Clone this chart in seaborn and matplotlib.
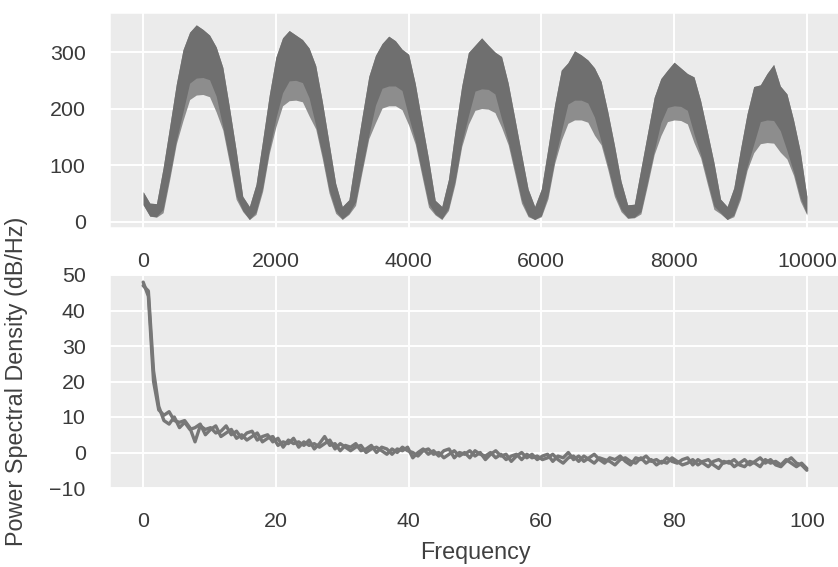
import numpy as np
import pandas as pd
import seaborn as sns
import matplotlib.pyplot as plt

# signal envelopes, sampled every 100 samples (0..10000)
x_top = np.arange(0, 10001, 100)
top_hi = [53, 33, 32, 95, 169, 244, 304, 335, 348, 340, 330, 309, 273, 202, 127, 45, 27,
          66, 144, 224, 291, 325, 338, 330, 322, 307, 276, 212, 140, 68, 27,
          39, 115, 187, 257, 294, 315, 328, 320, 305, 296, 244, 177, 111, 38, 27,
          75, 161, 240, 299, 312, 325, 312, 300, 292, 245, 183, 120, 58, 27,
          58, 131, 207, 268, 281, 302, 295, 286, 272, 248, 195, 136, 72, 30,
          31, 94, 157, 220, 253, 268, 282, 272, 262, 256, 214, 160, 105, 40, 27,
          60, 128, 191, 239, 242, 262, 278, 240, 226, 180, 125, 45]
dark_lo = [30, 10, 9, 22, 81, 144, 194, 245, 254, 255, 251, 222, 168, 109, 46, 20, 4,
           17, 60, 127, 183, 228, 249, 250, 246, 219, 170, 117, 57, 19, 5,
           15, 35, 95, 153, 206, 236, 240, 240, 232, 186, 143, 87, 32, 14, 5,
           24, 73, 139, 187, 231, 235, 234, 226, 182, 142, 91, 39, 11, 4,
           11, 47, 109, 159, 208, 215, 215, 210, 185, 142, 99, 51, 22, 7,
           8, 18, 71, 125, 175, 202, 205, 204, 197, 155, 119, 73, 28, 16, 4,
           12, 46, 97, 137, 177, 180, 179, 161, 126, 88, 43, 14]
light_lo = [30, 10, 8, 16, 75, 138, 179, 216, 224, 225, 221, 194, 162, 103, 40, 18, 4,
            13, 54, 121, 168, 205, 214, 215, 212, 187, 164, 111, 51, 15, 4,
            13, 29, 89, 147, 175, 201, 205, 205, 198, 171, 137, 81, 26, 12, 4,
            20, 67, 133, 172, 197, 200, 199, 193, 167, 136, 85, 33, 9, 4,
            9, 41, 103, 144, 174, 180, 180, 176, 153, 136, 93, 45, 18, 6,
            7, 14, 65, 119, 152, 177, 180, 179, 173, 140, 113, 67, 22, 14, 4,
            9, 40, 91, 122, 138, 140, 139, 123, 111, 82, 37, 12]

# power spectral density of the two segments
freq = np.linspace(0, 100, 129)
psd_a = [48.0, 44.0, 20.0, 12.0, 10.5, 11.5, 9.0, 8.5, 9.0, 7.0,
         3.0, 7.5, 6.5, 7.0, 5.5, 6.0, 7.5, 5.0, 6.0, 4.0,
         5.5, 6.0, 3.5, 4.5, 5.0, 3.0, 4.0, 1.5, 3.5, 2.5,
         3.0, 2.0, 3.5, 1.0, 2.5, 4.5, 2.0, 2.5, 0.5, 2.0,
         1.5, 2.5, 0.5, 1.0, 2.0, 0.0, 1.5, 1.0, -0.5, 1.0,
         0.5, 1.5, -1.5, 0.0, 1.0, -0.5, 0.5, -1.0, 0.5, 1.0,
         -1.5, 0.0, -0.5, 0.5, -1.0, 0.0, -2.0, -0.5, 0.5, -1.0,
         -0.5, -2.5, -1.0, 0.0, -1.5, -0.5, -2.0, -1.0, -0.5, -2.5,
         -1.0, -1.5, 0.0, -2.0, -1.0, -2.5, -1.5, -0.5, -2.0, -3.0,
         -1.5, -2.0, -1.0, -2.5, -3.5, -1.5, -2.0, -1.0, -2.5, -2.0,
         -3.0, -1.5, -2.5, -3.0, -2.0, -1.5, -3.5, -2.0, -3.0, -4.0,
         -2.5, -2.0, -3.0, -2.5, -4.0, -3.0, -2.0, -3.5, -2.5, -1.5,
         -3.0, -2.0, -3.5, -4.0, -2.5, -1.5, -3.0, -3.5, -5.0]
psd_b = [47.0, 45.5, 23.0, 13.0, 9.0, 8.0, 10.0, 7.0, 8.5, 6.5,
         7.0, 8.0, 5.0, 6.5, 7.5, 4.5, 5.5, 6.5, 4.0, 5.0,
         3.5, 4.5, 5.5, 3.0, 4.0, 4.5, 2.0, 3.0, 2.5, 4.0,
         1.5, 3.0, 2.0, 2.5, 1.5, 2.5, 3.5, 1.0, 2.5, 1.5,
         0.5, 1.5, 2.0, 0.0, 1.0, 1.5, 0.5, -0.5, 1.0, 0.0,
         1.5, 0.5, 0.0, -1.0, 0.5, 1.0, -0.5, 0.0, -1.5, -0.5,
         0.5, -1.0, 0.0, -1.5, 0.5, -0.5, -1.0, 0.0, -1.5, -0.5,
         -2.0, -1.0, -0.5, -2.0, -0.5, -1.5, -1.0, -2.0, -1.5, -0.5,
         -2.0, -3.0, -1.5, -1.0, -2.5, -1.0, -2.0, -3.0, -1.5, -2.0,
         -2.5, -3.5, -2.0, -1.5, -2.5, -3.0, -1.5, -3.0, -2.0, -3.5,
         -2.5, -3.0, -1.5, -2.5, -3.5, -3.0, -2.0, -3.5, -2.5, -2.0,
         -3.5, -4.5, -2.5, -3.0, -2.0, -3.5, -4.0, -2.5, -3.0, -4.0,
         -2.0, -3.0, -2.5, -3.5, -2.0, -3.0, -4.0, -3.0, -4.5]

sns.set_style("darkgrid", {"axes.facecolor": "#ebebeb", "grid.color": "white"})
plt.rcParams['font.family'] = ['Liberation Sans', 'DejaVu Sans']
plt.rcParams['grid.linewidth'] = 1.0

fig = plt.figure(figsize=(838 / 140, 567 / 140), dpi=140)
ax1 = fig.add_axes([110 / 838, 1 - 228 / 567, 730 / 838, 215 / 567])
ax2 = fig.add_axes([110 / 838, 1 - 488 / 567, 730 / 838, 213 / 567])

# top: raw signal (two overlapping traces)
ax1.fill_between(x_top, light_lo, top_hi, color='#8d8d8d', lw=0)
ax1.fill_between(x_top, dark_lo, top_hi, color='#6f6f6f', lw=0)
ax1.set_xlim(-500, 10500)
ax1.set_ylim(-11, 369)
ax1.set_xticks(range(0, 10001, 2000))
ax1.set_yticks([0, 100, 200, 300])

# bottom: psd
df = pd.DataFrame({'freq': np.concatenate([freq, freq]),
                   'psd': psd_a + psd_b,
                   'seg': ['a'] * len(freq) + ['b'] * len(freq)})
sns.lineplot(data=df, x='freq', y='psd', hue='seg', palette=['#777777', '#777777'],
             estimator=None, lw=1.7, legend=False, ax=ax2)
ax2.set_xlim(-5, 105)
ax2.set_ylim(-10, 50)
ax2.set_xticks(range(0, 101, 20))
ax2.set_yticks(range(-10, 51, 10))
ax2.set_xlabel('Frequency', fontsize=12, color='#404040', labelpad=5)
ax2.set_ylabel('Power Spectral Density (dB/Hz)', fontsize=12, color='#404040', labelpad=11)

for ax in (ax1, ax2):
    ax.tick_params(labelsize=11, pad=12.5, colors='#3a3a3a', length=0)

fig.savefig('out.png', dpi=140)
